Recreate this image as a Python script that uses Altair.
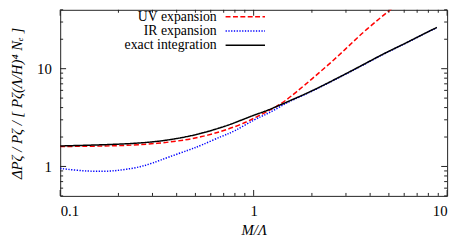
import altair as alt
import pandas as pd

# ---------------- data ----------------
series_names = ["UV expansion", "IR expansion", "exact integration"]
series_colors = ["#ff0000", "#0000ff", "#000000"]
series_dash = [[5, 2.5], [1.3, 1.5], [1, 0]]

uv_x = [0.1, 0.15, 0.2, 0.25, 0.34, 0.45, 0.55, 0.68, 0.8, 0.92, 1.03, 1.16, 1.3, 1.47,
        1.65, 2.0, 2.44, 3.0, 3.61, 4.5, 5.33, 6.0]
uv_y = [1.60, 1.61, 1.63, 1.66, 1.74, 1.87, 2.03, 2.28, 2.55, 2.85, 3.2, 3.6, 4.05, 4.75,
        5.7, 7.85, 11.0, 16.0, 22.8, 33.0, 43.1, 52.7]

ir_x = [0.1, 0.12, 0.14, 0.164, 0.19, 0.22, 0.26, 0.3, 0.36, 0.47, 0.53, 0.7, 0.785, 1.03,
        1.16, 1.3, 1.47, 1.6, 2.0, 2.64, 3.5, 4.74, 6.0, 7.5, 8.85]
ir_y = [0.955, 0.915, 0.895, 0.89, 0.90, 0.935, 0.99, 1.08, 1.24, 1.49, 1.63, 2.08, 2.25, 3.1,
        3.4, 3.85, 4.45, 4.8, 5.85, 7.75, 10.3, 14.3, 17.8, 22.4, 26.3]

exact_x = [0.1, 0.2, 0.3, 0.4, 0.53, 0.7, 0.8, 1.0, 1.16, 1.5, 2.0, 2.64, 3.5, 4.74, 6.0,
           7.5, 8.85]
exact_y = [1.62, 1.68, 1.77, 1.92, 2.15, 2.55, 2.80, 3.35, 3.68, 4.60, 5.9, 7.8, 10.4, 14.4,
           17.9, 22.5, 26.4]

x_major_ticks = [0.1, 1, 10]
x_minor_ticks = [0.2, 0.3, 0.4, 0.5, 0.6, 0.7, 0.8, 0.9, 2, 3, 4, 5, 6, 7, 8, 9]
y_major_ticks = [1, 10]
y_minor_ticks = [0.5, 0.6, 0.7, 0.8, 0.9, 2, 3, 4, 5, 6, 7, 8, 9, 20, 30, 40]

x_title = "M/Λ"
y_title = "ΔPζ / Pζ / [ Pζ(Λ/H)⁴ Nₑ ]"

# ---------------- layout / style ----------------
W, H = 393, 189
FONT = "Liberation Serif"
FS = 15
MAJOR, MINOR = 6, 3
legend_rows_y = [7, 21.5, 36]
legend_text_x = 159
legend_line_x = (168, 208)

rows = []
for name, xs, ys in zip(series_names, [uv_x, ir_x, exact_x], [uv_y, ir_y, exact_y]):
    for xv, yv in zip(xs, ys):
        rows.append({"series": name, "x": xv, "y": yv})
df = pd.DataFrame(rows)

xscale = alt.Scale(type="log", domain=[0.1, 10])
yscale = alt.Scale(type="log", domain=[0.5, 40])

x_axis = alt.Axis(values=x_major_ticks, format="~g", ticks=False, domain=False, grid=False,
                  labelPadding=8, title=x_title, titleFontStyle="italic",
                  titleY=34, titleBaseline="middle")
y_axis = alt.Axis(values=y_major_ticks, format="~g", ticks=False, domain=False, grid=False,
                  labelPadding=9, title=y_title, titleFontStyle="italic", titleFontSize=15,
                  titleX=-44, titleY=H / 2, titleAlign="center", titleBaseline="middle",
                  titleAngle=270)

layers = []
for name, col, dash in zip(series_names, series_colors, series_dash):
    layers.append(
        alt.Chart(df).transform_filter(alt.datum.series == name)
        .mark_line(color=col, strokeDash=dash, strokeWidth=1.5, clip=True,
                   interpolate="basis")
        .encode(
            x=alt.X("x:Q", scale=xscale, axis=x_axis),
            y=alt.Y("y:Q", scale=yscale, axis=y_axis),
            order="x:Q",
        )
    )

# inward ticks on all four sides (gnuplot style)
def xticks(values, size):
    d = pd.DataFrame({"x": values})
    out = []
    for y0, y1 in [(H, H - size), (0, size)]:
        out.append(alt.Chart(d).mark_rule(color="#222", strokeWidth=1).encode(
            x=alt.X("x:Q", scale=xscale, axis=x_axis),
            y=alt.value(y0), y2=alt.value(y1)))
    return out

def yticks(values, size):
    d = pd.DataFrame({"y": values})
    out = []
    for x0, x1 in [(0, size), (W, W - size)]:
        out.append(alt.Chart(d).mark_rule(color="#222", strokeWidth=1).encode(
            y=alt.Y("y:Q", scale=yscale, axis=y_axis),
            x=alt.value(x0), x2=alt.value(x1)))
    return out

tick_layers = (xticks(x_major_ticks, MAJOR) + xticks(x_minor_ticks, MINOR)
               + yticks(y_major_ticks, MAJOR) + yticks(y_minor_ticks, MINOR))

# legend (label left, sample right, like gnuplot)
legend_layers = []
for name, col, dash, ly in zip(series_names, series_colors, series_dash, legend_rows_y):
    d = pd.DataFrame({"label": [name]})
    legend_layers.append(
        alt.Chart(d).mark_text(align="right", baseline="middle", font=FONT, fontSize=14,
                               color="black")
        .encode(text="label:N", x=alt.value(legend_text_x), y=alt.value(ly)))
    legend_layers.append(
        alt.Chart(d).mark_rule(color=col, strokeDash=dash, strokeWidth=1.5)
        .encode(x=alt.value(legend_line_x[0]), x2=alt.value(legend_line_x[1]),
                y=alt.value(ly)))

chart = alt.layer(*layers, *tick_layers, *legend_layers).properties(
    width=W, height=H,
    autosize=alt.AutoSizeParams(type="none"),
    padding={"left": 53, "top": 0, "right": 8, "bottom": 46},
).configure_view(stroke="#222", strokeWidth=1).configure_axis(
    labelFont=FONT, labelFontSize=FS, labelColor="black",
    titleFont=FONT, titleFontSize=FS, titleFontWeight="normal", titleColor="black",
)

chart.save("out.html", embed_options={"renderer": "svg", "actions": False})
